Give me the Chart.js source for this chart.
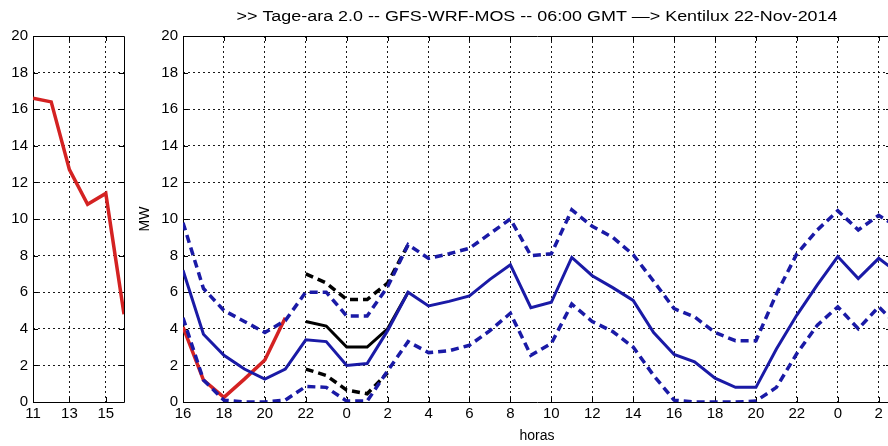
<!DOCTYPE html>
<html>
<head>
<meta charset="utf-8">
<script src="https://cdn.jsdelivr.net/npm/chart.js@4.4.1/dist/chart.umd.min.js"></script>
<style>
  html, body { margin: 0; padding: 0; background: #fff; overflow: hidden; width: 888px; height: 446px; }
  #left { position: absolute; left: 0; top: 0; }
  #main { position: absolute; left: 130px; top: 0; }
</style>
</head>
<body>
<canvas id="left" width="130" height="446"></canvas>
<canvas id="main" width="814" height="446"></canvas>
<script>
// small panel: last hours of observed power
const pastHours = [11, 12, 13, 14, 15, 16];
const pastPower = [16.6, 16.4, 12.7, 10.8, 11.4, 4.8];
const pastTicks = [11, 13, 15];

// main panel, one value per hour starting at 16:00
const hourTickLabels = ['16', '18', '20', '22', '0', '2', '4', '6', '8', '10', '12', '14', '16', '18', '20', '22', '0', '2'];
const forecast = [7.2, 3.7, 2.55, 1.8, 1.25, 1.8, 3.4, 3.3, 2.0, 2.1, 3.9, 6.0, 5.25, 5.5, 5.8, 6.7, 7.5, 5.15,
  5.45, 7.9, 6.9, 6.25, 5.55, 3.8, 2.6, 2.2, 1.3, 0.8, 0.8, 2.9, 4.75, 6.4, 7.95, 6.75, 7.85, 7.0];
const forecastHigh = [9.8, 6.2, 5.0, 4.4, 3.8, 4.45, 6.0, 6.0, 4.7, 4.7, 6.3, 8.6, 7.85, 8.1, 8.4, 9.2, 10.0, 8.0,
  8.1, 10.5, 9.6, 9.0, 8.05, 6.6, 5.1, 4.65, 3.8, 3.35, 3.35, 5.9, 8.1, 9.4, 10.45, 9.4, 10.2, 9.5];
const forecastLow = [4.6, 1.2, 0.1, 0, 0, 0.1, 0.85, 0.8, 0.05, 0.05, 1.7, 3.3, 2.7, 2.8, 3.1, 3.9, 4.85, 2.55,
  3.2, 5.35, 4.4, 3.85, 3.0, 1.45, 0.1, 0, 0, 0, 0.05, 0.8, 2.65, 4.2, 5.2, 4.0, 5.2, 4.1];
// second run (black), starts at 22:00
const altStart = 6;
const altForecast = [4.4, 4.15, 3.0, 3.0, 4.0, 6.0];
const altHigh = [7.0, 6.5, 5.6, 5.6, 6.5, 8.6];
const altLow = [1.8, 1.45, 0.65, 0.45, 1.6];
// measured (red), starts at 16:00
const measured = [4.1, 1.2, 0.25, 1.25, 2.3, 4.6];

const yTicks = [0, 2, 4, 6, 8, 10, 12, 14, 16, 18, 20];

const BLUE = '#1a1aa6';
const RED = '#d42222';
const FONT = "'Liberation Sans', Arial, Helvetica, sans-serif";

Chart.defaults.font.family = FONT;
Chart.defaults.color = '#000';
Chart.defaults.animation = false;

function pts(values, start) {
  return values.map((v, i) => ({ x: start + i, y: v }));
}

// box round the axes with small inward ticks, like matlab
const frame = {
  id: 'frame',
  beforeDatasetsDraw(chart) {
    const { ctx, chartArea: a, scales } = chart;
    ctx.save();
    ctx.strokeStyle = '#000';
    ctx.lineWidth = 1;
    ctx.setLineDash([]);
    ctx.beginPath();
    ctx.rect(Math.round(a.left) + 0.5, Math.round(a.top) + 0.5, Math.round(a.width), Math.round(a.height));
    scales.x.ticks.forEach(t => {
      const px = Math.round(scales.x.getPixelForValue(t.value)) + 0.5;
      ctx.moveTo(px, a.bottom); ctx.lineTo(px, a.bottom - 5);
      ctx.moveTo(px, a.top); ctx.lineTo(px, a.top + 5);
    });
    scales.y.ticks.forEach(t => {
      const py = Math.round(scales.y.getPixelForValue(t.value)) + 0.5;
      ctx.moveTo(a.left, py); ctx.lineTo(a.left + 5, py);
      ctx.moveTo(a.right, py); ctx.lineTo(a.right - 5, py);
    });
    ctx.stroke();
    ctx.restore();
  }
};

// title centred over the plot area; matlab's helvetica is wider, so stretch it
const topTitle = {
  id: 'topTitle',
  afterDraw(chart, args, opts) {
    const { ctx, chartArea: a } = chart;
    ctx.save();
    ctx.font = opts.font;
    ctx.fillStyle = '#000';
    ctx.textAlign = 'center';
    ctx.textBaseline = 'middle';
    ctx.translate((a.left + a.right) / 2, opts.y);
    ctx.scale(opts.stretch, 1);
    ctx.fillText(opts.text, 0, 0);
    ctx.restore();
  }
};

const gridOpts = { color: 'rgba(0,0,0,0.9)', lineWidth: 1, drawTicks: false };
const borderOpts = { display: false, dash: [2, 3] };
const tickFont = { size: 15 };

function yAxis(width, title) {
  return {
    type: 'linear', min: 0, max: 20,
    afterBuildTicks: s => { s.ticks = yTicks.map(v => ({ value: v })); },
    afterFit: s => { s.width = width; },
    grid: gridOpts, border: borderOpts,
    ticks: { font: tickFont, padding: 5 },
    title: title
  };
}

new Chart(document.getElementById('left'), {
  type: 'line',
  data: {
    datasets: [{
      data: pts(pastPower, pastHours[0]),
      borderColor: RED, borderWidth: 3.5, pointRadius: 0, tension: 0
    }]
  },
  options: {
    responsive: false,
    layout: { padding: { top: 36, right: 6, left: 0, bottom: 0 } },
    plugins: { legend: { display: false }, tooltip: { enabled: false } },
    scales: {
      x: {
        type: 'linear', min: 11, max: 16,
        afterBuildTicks: s => { s.ticks = pastTicks.map(v => ({ value: v })); },
        afterFit: s => { s.height = 44; },
        grid: gridOpts, border: borderOpts,
        ticks: { font: tickFont, padding: 3, maxRotation: 0 }
      },
      y: yAxis(33, { display: false })
    }
  },
  plugins: [frame]
});

const dashed = [8, 5];

new Chart(document.getElementById('main'), {
  type: 'line',
  data: {
    datasets: [
      { data: pts(forecastHigh, 0), borderColor: BLUE, borderWidth: 3.5, borderDash: dashed },
      { data: pts(forecastLow, 0), borderColor: BLUE, borderWidth: 3.5, borderDash: dashed },
      { data: pts(forecast, 0), borderColor: BLUE, borderWidth: 3 },
      { data: pts(altHigh, altStart), borderColor: '#000', borderWidth: 3.5, borderDash: dashed },
      { data: pts(altLow, altStart), borderColor: '#000', borderWidth: 3.5, borderDash: dashed },
      { data: pts(altForecast, altStart), borderColor: '#000', borderWidth: 3 },
      { data: pts(measured, 0), borderColor: RED, borderWidth: 3.5 }
    ].map(d => Object.assign({ pointRadius: 0, tension: 0, fill: false }, d))
  },
  options: {
    responsive: false,
    layout: { padding: { top: 36, right: 53, left: 0, bottom: 0 } },
    plugins: {
      legend: { display: false }, tooltip: { enabled: false },
      topTitle: {
        text: '>> Tage-ara 2.0 -- GFS-WRF-MOS -- 06:00 GMT \u2014> Kentilux 22-Nov-2014',
        font: '14px ' + FONT, y: 17, stretch: 1.28
      }
    },
    scales: {
      x: {
        type: 'linear', min: 0, max: 34.6,
        afterBuildTicks: s => { s.ticks = hourTickLabels.map((_, i) => ({ value: i * 2 })); },
        afterFit: s => { s.height = 44; },
        grid: gridOpts, border: borderOpts,
        ticks: { font: tickFont, padding: 3, maxRotation: 0, autoSkip: false,
          callback: (v, i) => hourTickLabels[i] },
        title: { display: true, text: 'horas', font: { size: 14 }, padding: { top: 0, bottom: 1 } }
      },
      y: yAxis(53, { display: true, text: 'MW', font: { size: 14 }, padding: { top: 7, bottom: 0 } })
    }
  },
  plugins: [frame, topTitle]
});
</script>
</body>
</html>
